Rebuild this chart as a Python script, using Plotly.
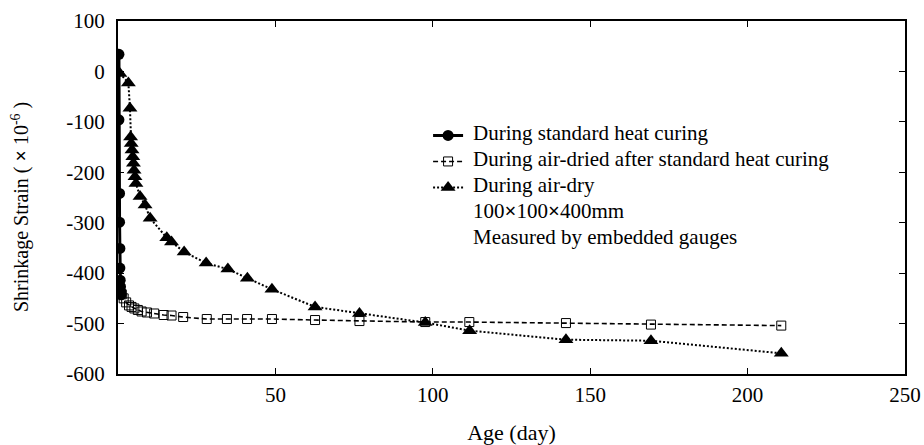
import plotly.graph_objects as go

# Shrinkage strain (x10^-6) versus age (days)

# During standard heat curing
heat_age = [0.3, 0.3, 0.5, 0.5, 0.6, 0.6, 0.7, 0.8, 0.9, 1.0]
heat_strain = [34, -96, -242, -299, -351, -390, -414, -427, -437, -443]

# During air-drying after standard heat curing
after_age = [1.2, 1.8, 2.6, 3.5, 4.3, 5.2, 6.3, 7.5, 9.2, 11.5, 14.5, 17.0, 20.7,
             28.2, 34.6, 41.0, 48.9, 62.6, 76.7, 97.6, 111.6, 142.3, 169.3, 210.7]
after_strain = [-442, -450, -458, -464, -467, -470, -473, -476, -478, -480, -483, -484, -487,
                -491, -491, -491, -491, -493, -495, -497, -497, -499, -502, -504]

# During air-drying only
dry_age = [0.6, 3.3, 3.8, 4.0, 4.2, 4.45, 4.7, 4.9, 5.1, 5.4, 5.7, 7.0, 8.6, 10.2,
           15.5, 17.0, 21.0, 28.0, 34.9, 41.1, 48.9, 62.6, 76.7, 97.6, 111.7,
           142.3, 169.3, 210.7]
dry_strain = [-4, -23, -73, -130, -143, -156, -169, -182, -196, -209, -222, -248, -265, -291,
              -330, -338, -358, -380, -392, -410, -432, -467, -480, -498, -514,
              -532, -534, -559]

x_ticks = [50, 100, 150, 200, 250]
y_ticks = [-600, -500, -400, -300, -200, -100, 0, 100]
y_tick_text = [str(v) for v in y_ticks]  # plain hyphen minus

legend_lines = [
    "During standard heat curing",
    "During air-dried after standard heat curing",
    "During air-dry",
    "100<b>×</b>100<b>×</b>400mm",
    "Measured by embedded gauges",
]

FONT = "Liberation Serif"
BLACK = "black"

fig = go.Figure()

# Series; legend shows only the key symbols, the labels are placed as text beside them
fig.add_trace(go.Scatter(
    x=heat_age, y=heat_strain, name=" ", legendgroup="g1",
    mode="lines+markers",
    line=dict(color=BLACK, width=3),
    marker=dict(symbol="circle", size=11, color=BLACK),
))
fig.add_trace(go.Scatter(
    x=after_age, y=after_strain, name=" ", legendgroup="g2",
    mode="lines+markers",
    line=dict(color=BLACK, width=1.6, dash="5px,3px"),
    marker=dict(symbol="square-open", size=9, color=BLACK, line=dict(width=1)),
))
fig.add_trace(go.Scatter(
    x=dry_age, y=dry_strain, name=" ", legendgroup="g3",
    mode="lines+markers",
    line=dict(color=BLACK, width=2, dash="2px,2px"),
    marker=dict(symbol="triangle-up", size=13, color=BLACK),
))

axis_common = dict(
    showline=True, linecolor=BLACK, linewidth=2, mirror="ticks",
    ticks="inside", ticklen=6, tickwidth=1, tickcolor=BLACK,
    showgrid=False, zeroline=False, automargin=False,
    tickfont=dict(family=FONT, size=21, color=BLACK),
)

fig.update_xaxes(
    range=[0, 250], tickvals=x_ticks, ticklabelstandoff=1,
    title=dict(text="Age (day)", font=dict(family=FONT, size=22, color=BLACK), standoff=18),
    **axis_common,
)
fig.update_yaxes(
    range=[-600, 100], tickvals=y_ticks, ticktext=y_tick_text, ticklabelstandoff=7,
    **axis_common,
)

# Legend labels and specimen notes
row_px = [133, 159, 185, 211, 237]
for txt, ypx in zip(legend_lines, row_px):
    fig.add_annotation(
        xref="paper", yref="paper",
        x=(471 - 118) / 787, y=(374 - ypx) / 353,
        xanchor="left", yanchor="middle",
        text=txt, showarrow=False,
        font=dict(family=FONT, size=21, color=BLACK),
    )

# Y-axis title
fig.add_annotation(
    xref="paper", yref="paper",
    x=-(118 - 20) / 787, y=(374 - 207) / 353,
    xanchor="center", yanchor="middle", textangle=-90,
    text="Shrinkage Strain ( <b>×</b> 10<sup>-6</sup> )", showarrow=False,
    font=dict(family=FONT, size=20, color=BLACK),
)

fig.update_layout(
    width=924, height=445,
    margin=dict(l=118, r=19, t=21, b=71),
    paper_bgcolor="white", plot_bgcolor="white",
    font=dict(family=FONT, size=20, color=BLACK),
    showlegend=True,
    legend=dict(
        x=0.394, y=0.72, xanchor="left", yanchor="top",
        bgcolor="rgba(0,0,0,0)", borderwidth=0,
        font=dict(family=FONT, size=14, color=BLACK),
        tracegroupgap=4.8, traceorder="grouped",
    ),
)

fig.write_html("out.html")
